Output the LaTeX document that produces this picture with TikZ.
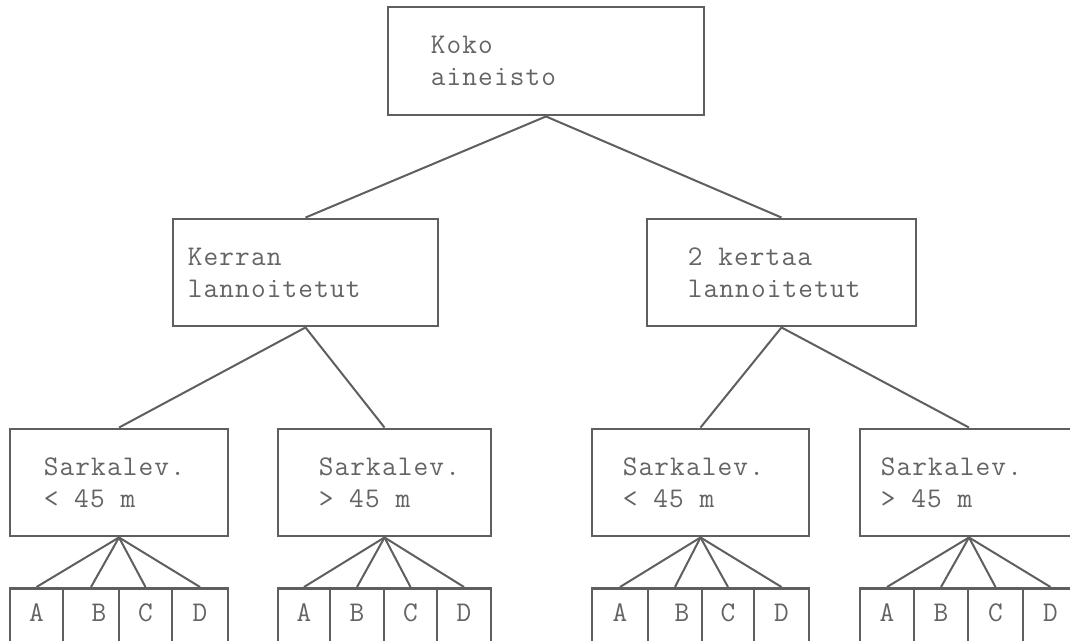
\documentclass[tikz,border=0pt]{standalone}
\usepackage{fontspec}
\newfontfamily\tw{Latin Modern Mono}[LetterSpace=4]
\definecolor{ink}{RGB}{95,95,95}
\definecolor{txt}{RGB}{100,100,100}
\begin{document}
\begin{tikzpicture}[x=1pt,y=-1pt,
  box/.style={draw=ink, line width=2.9pt, inner sep=0pt, minimum height=107pt, minimum width=#1pt},
  lbl/.style={anchor=west, align=left, inner sep=0pt, text=txt, font=\tw\fontsize{28.5}{32}\selectfont},
  cell/.style={draw=ink, line width=2.9pt, anchor=north, inner sep=0pt, text height=33pt, text depth=30pt, minimum width=#1pt, text=txt, font=\tw\fontsize{28.5}{32}\selectfont},
  link/.style={draw=ink, line width=2pt}]
\useasboundingbox (0,0) rectangle (1070,640);
\clip (0,0) rectangle (1070,640);
\fill[white] (0,0) rectangle (1070,640);
% boxes
\node[box=316, minimum height=108pt] (top) at (546,61) {};
\node[box=265] (ker) at (305.5,272.5) {};
\node[box=269] (kah) at (781.5,272.5) {};
\node[box=218] (s1) at (119,482.5) {};
\node[box=213] (s2) at (384.5,482.5) {};
\node[box=217] (s3) at (700.5,482.5) {};
\node[box=218] (s4) at (969,482.5) {};
% texts
\node[lbl] (ttop) at ([xshift=44pt]top.west) {Koko\\aineisto};
\node[lbl] (tker) at ([xshift=16pt]ker.west) {Kerran\\lannoitetut};
\node[lbl] (tkah) at ([xshift=42pt]kah.west) {2 kertaa\\lannoitetut};
\node[lbl] (ts1) at ([xshift=35pt]s1.west) {Sarkalev.\\< 45 m};
\node[lbl] (ts2) at ([xshift=42pt]s2.west) {Sarkalev.\\> 45 m};
\node[lbl] (ts3) at ([xshift=32pt]s3.west) {Sarkalev.\\< 45 m};
\node[lbl] (ts4) at ([xshift=22pt]s4.west) {Sarkalev.\\> 45 m};
% cells
\node[cell=53] (a1) at (36.5,587) {A};
\node[cell=56] (b1) at (91,587) {\hspace*{16pt}B};
\node[cell=53] (c1) at (145.5,587) {C};
\node[cell=56] (d1) at (200,587) {D};
\node[cell=52] (a2) at (304,587) {A};
\node[cell=54] (b2) at (357,587) {B};
\node[cell=53] (c2) at (410.5,587) {C};
\node[cell=54] (d2) at (464,587) {D};
\node[cell=56] (a3) at (620,587) {A};
\node[cell=54] (b3) at (675,587) {\hspace*{14pt}B};
\node[cell=52] (c3) at (728,587) {C};
\node[cell=55] (d3) at (781.5,587) {D};
\node[cell=54] (a4) at (887,587) {A};
\node[cell=54] (b4) at (941,587) {B};
\node[cell=55] (c4) at (995.5,587) {C};
\node[cell=55] (d4) at (1050.5,587) {D};
% connectors
\draw[link] (top.south) -- (ker.north);
\draw[link] (top.south) -- (kah.north);
\draw[link] (ker.south) -- (s1.north);
\draw[link] (ker.south) -- (s2.north);
\draw[link] (kah.south) -- (s3.north);
\draw[link] (kah.south) -- (s4.north);
\foreach \s/\n in {s1/1,s2/2,s3/3,s4/4}{
  \foreach \c in {a,b,c,d}{
    \draw[link] (\s.south) -- (\c\n.north);
  }
}
\end{tikzpicture}
\end{document}
